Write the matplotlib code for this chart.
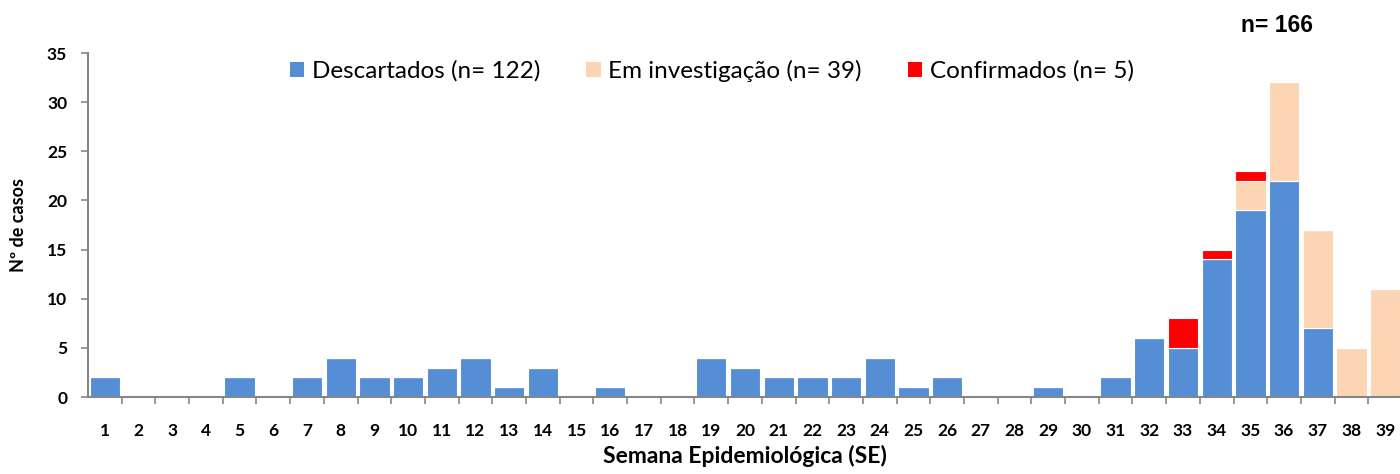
import matplotlib
matplotlib.use("Agg")
import matplotlib.pyplot as plt
from matplotlib.patches import Patch
import numpy as np

plt.rcParams["font.family"] = ["Lato", "DejaVu Sans"]

semanas = list(range(1, 40))
descartados = [2, 0, 0, 0, 2, 0, 2, 4, 2, 2, 3, 4, 1, 3, 0, 1, 0, 0, 4, 3,
               2, 2, 2, 4, 1, 2, 0, 0, 1, 0, 2, 6, 5, 14, 19, 22, 7, 0, 0]
investigacao = [0] * 34 + [3, 10, 10, 5, 11]
confirmados = [0] * 32 + [3, 1, 1] + [0] * 4

labels = ["Descartados (n= 122)", "Em investigação (n= 39)", "Confirmados (n= 5)"]
cores = ["#558ED5", "#FCD5B5", "#FF0000"]

fig = plt.figure(figsize=(14, 4.74), dpi=100)
ax = fig.add_axes([88 / 1400, 77 / 474, 1314 / 1400, 344 / 474])

x = np.array(semanas)
d = np.array(descartados)
i = np.array(investigacao)
c = np.array(confirmados)
w = 0.9
ax.bar(x, d, width=w, color=cores[0], edgecolor="white", linewidth=0.8)
ax.bar(x, i, width=w, bottom=d, color=cores[1], edgecolor="white", linewidth=0.8)
ax.bar(x, c, width=w, bottom=d + i, color=cores[2], edgecolor="white", linewidth=0.8)

ax.set_xlim(0.5, 39.5)
ax.set_ylim(0, 35)
ax.set_yticks(range(0, 36, 5))
ax.set_xticks(x)
ax.set_xticklabels([str(s) for s in semanas])
ax.set_xticks(np.arange(1.5, 39.5, 1), minor=True)
ax.tick_params(axis="x", which="major", length=0, pad=19, labelsize=12.5)
ax.tick_params(axis="x", which="minor", length=5, color="#868686", width=1.2)
ax.tick_params(axis="y", length=5, color="#868686", width=1.2, labelsize=12.5, pad=10)
for lab in ax.get_xticklabels() + ax.get_yticklabels():
    lab.set_fontweight("bold")

for s in ["top", "right"]:
    ax.spines[s].set_visible(False)
for s in ["left", "bottom"]:
    ax.spines[s].set_color("#868686")
    ax.spines[s].set_linewidth(1.5)

ax.set_xlabel("Semana Epidemiológica (SE)", fontsize=16.5, fontweight="bold", labelpad=4)
ax.set_ylabel("Nº de casos", fontsize=13, fontweight="bold", labelpad=14)

handles = [Patch(facecolor=cor) for cor in cores]
fig.legend(handles, labels, loc="center left", bbox_to_anchor=(280 / 1400, 1 - 71 / 474),
           ncol=3, frameon=False, fontsize=17.5, handlelength=0.6, handleheight=0.6,
           handletextpad=0.3, columnspacing=1.9, borderaxespad=0)

fig.text(1277 / 1400, 1 - 25 / 474, "n= 166", fontsize=16.5, fontweight="bold",
         family=["Liberation Sans", "DejaVu Sans"], ha="center", va="center")

fig.savefig("out.png", dpi=100)
